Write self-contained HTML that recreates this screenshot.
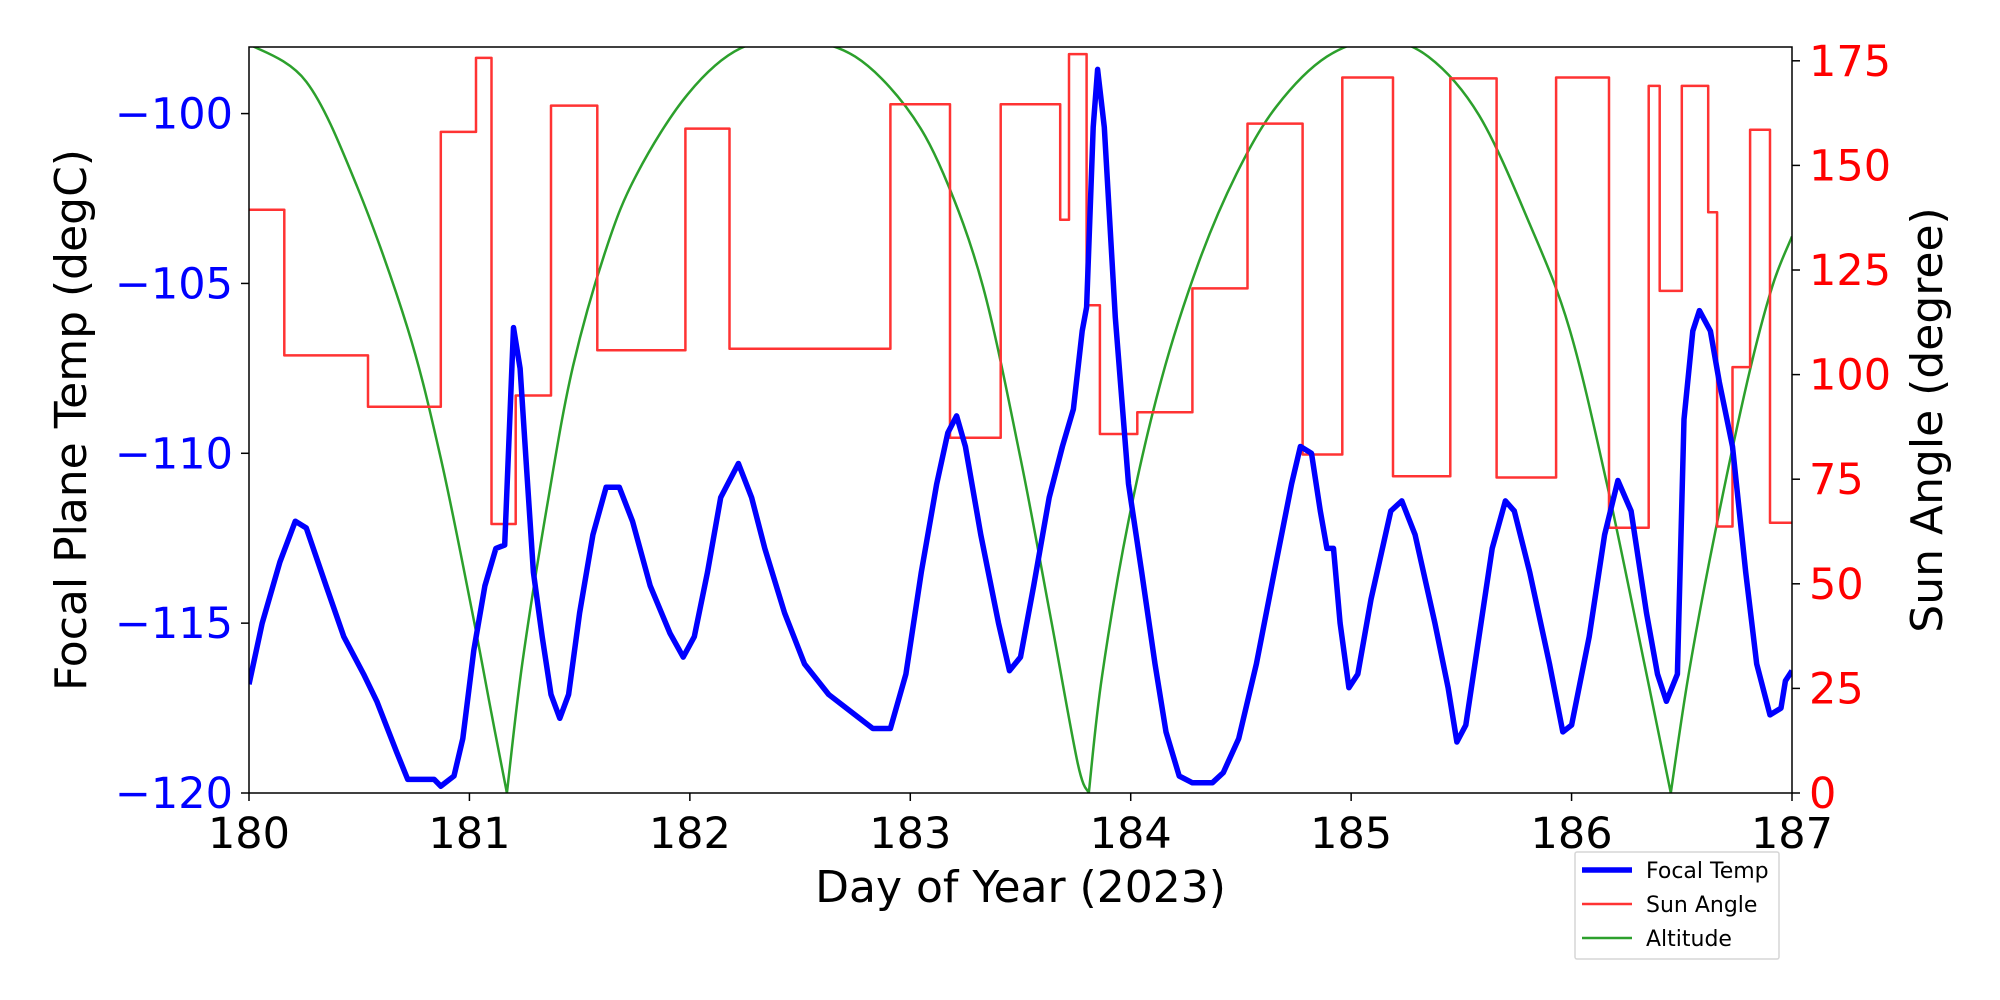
<!DOCTYPE html>
<html><head><meta charset="utf-8"><style>
html,body{margin:0;padding:0;background:#fff;}
svg{display:block;font-family:"DejaVu Sans","Liberation Sans",sans-serif;}
</style></head><body>
<svg id="chart" width="2000" height="1000" viewBox="0 0 2000 1000"></svg>
<script>
const focalDays=[180.0,180.06,180.14,180.21,180.26,180.35,180.43,180.52,180.58,180.67,180.72,180.84,180.87,180.93,180.97,181.02,181.07,181.12,181.16,181.19,181.2,181.23,181.26,181.29,181.33,181.37,181.41,181.45,181.5,181.56,181.62,181.68,181.74,181.82,181.91,181.97,182.02,182.08,182.14,182.22,182.28,182.34,182.43,182.52,182.63,182.75,182.83,182.91,182.98,183.05,183.12,183.17,183.21,183.25,183.32,183.4,183.45,183.5,183.56,183.63,183.69,183.74,183.78,183.8,183.83,183.85,183.88,183.93,183.99,184.05,184.11,184.16,184.22,184.28,184.37,184.42,184.49,184.57,184.66,184.73,184.77,184.82,184.86,184.89,184.92,184.95,184.99,185.03,185.09,185.18,185.23,185.29,185.38,185.44,185.48,185.52,185.58,185.64,185.7,185.74,185.81,185.9,185.96,186.0,186.08,186.15,186.21,186.27,186.34,186.39,186.43,186.48,186.51,186.55,186.58,186.63,186.67,186.73,186.79,186.84,186.9,186.95,186.97,187.0];
const focalTemp=[-116.8,-115,-113.2,-112.0,-112.2,-113.9,-115.4,-116.5,-117.3,-118.8,-119.6,-119.6,-119.8,-119.5,-118.4,-115.8,-113.9,-112.8,-112.7,-107.9,-106.3,-107.5,-110.5,-113.5,-115.4,-117.1,-117.8,-117.1,-114.7,-112.4,-111.0,-111.0,-112.0,-113.9,-115.3,-116.0,-115.4,-113.5,-111.3,-110.3,-111.3,-112.8,-114.7,-116.2,-117.1,-117.7,-118.1,-118.1,-116.5,-113.5,-110.9,-109.4,-108.9,-109.8,-112.4,-115.0,-116.4,-116.0,-113.9,-111.3,-109.8,-108.7,-106.4,-105.7,-100.4,-98.7,-100.4,-106.0,-110.9,-113.5,-116.2,-118.2,-119.5,-119.7,-119.7,-119.4,-118.4,-116.2,-113.2,-110.9,-109.8,-110.0,-111.7,-112.8,-112.8,-115.0,-116.9,-116.5,-114.3,-111.7,-111.4,-112.4,-115.0,-116.9,-118.5,-118.0,-115.4,-112.8,-111.4,-111.7,-113.5,-116.2,-118.2,-118.0,-115.4,-112.4,-110.8,-111.7,-114.7,-116.5,-117.3,-116.5,-109.0,-106.4,-105.8,-106.4,-107.9,-109.8,-113.5,-116.2,-117.7,-117.5,-116.7,-116.4];
const sunDays=[180.0,180.16,180.54,180.87,181.03,181.1,181.21,181.37,181.58,181.98,182.18,182.91,183.18,183.41,183.68,183.72,183.8,183.86,184.03,184.28,184.53,184.78,184.96,185.19,185.45,185.66,185.93,186.17,186.35,186.4,186.5,186.62,186.66,186.73,186.81,186.9,187.0];
const sunAngle=[139.4,104.6,92.3,158,175.7,64.3,95,164.3,105.8,158.8,106.2,164.6,84.9,164.6,137,176.6,116.6,85.8,91,120.6,160,80.9,171,75.7,170.8,75.4,171,63.4,169,120,169,138.8,63.7,101.8,158.5,64.6,64.6];
const altDays=[180.0,180.26,180.49,180.72,180.87,181.01,181.1,181.17,181.24,181.36,181.47,181.62,181.76,181.99,182.23,182.5,182.75,182.98,183.15,183.33,183.5,183.64,183.76,183.81,183.87,183.99,184.14,184.31,184.48,184.66,184.89,185.13,185.35,185.58,185.81,185.99,186.16,186.33,186.45,186.53,186.65,186.8,186.91,187.0];
const altitude=[179,170,145,111,80,44,19,0,31,71,102,130,148,167,178,180,176,164,148,121,80,41,7,0,28,65,99,127,148,164,176,180,176,162,136,111,74,31,0,28,62,99,121,133];
const xTicks=[180,181,182,183,184,185,186,187];
const leftTicks=[-120,-115,-110,-105,-100];
const rightTicks=[0,25,50,75,100,125,150,175];

const L=249,R=1792,T=47,B=793;
const xs=d=>L+(d-180)/7*(R-L);
const yl=v=>B-(v+120)/(21.96)*(B-T);
const yr=v=>B-v/178.3*(B-T);
const NS="http://www.w3.org/2000/svg";
const svg=document.getElementById('chart');
function mk(tag,attrs,parent){const e=document.createElementNS(NS,tag);for(const k in attrs)e.setAttribute(k,attrs[k]);(parent||svg).appendChild(e);return e;}

const defs=mk('defs',{});
const cp=mk('clipPath',{id:'clip'},defs);
mk('rect',{x:L,y:T,width:R-L,height:B-T},cp);
const g=mk('g',{'clip-path':'url(#clip)'});

function smoothPath(P){let s='M'+P[0][0].toFixed(1)+','+P[0][1].toFixed(1);
 for(let i=0;i<P.length-1;i++){const p0=P[i-1]||P[i],p1=P[i],p2=P[i+1],p3=P[i+2]||p2;
  const c1=[p1[0]+(p2[0]-p0[0])/6,p1[1]+(p2[1]-p0[1])/6],c2=[p2[0]-(p3[0]-p1[0])/6,p2[1]-(p3[1]-p1[1])/6];
  s+='C'+c1[0].toFixed(1)+','+c1[1].toFixed(1)+' '+c2[0].toFixed(1)+','+c2[1].toFixed(1)+' '+p2[0].toFixed(1)+','+p2[1].toFixed(1);}
 return s;}
let d='',seg=[];
altDays.forEach((t,i)=>{const p=[xs(t),yr(altitude[i])];seg.push(p);
 if(altitude[i]===0&&i>0){d+=smoothPath(seg);seg=[p];}});
if(seg.length>1)d+=smoothPath(seg);
const alt=mk('path',{d:d,fill:'none',stroke:'#2ca02c','stroke-width':2.5},g);



d='';sunDays.forEach((t,i)=>{const x=xs(t).toFixed(1),y=yr(sunAngle[i]).toFixed(1);if(i===0)d+='M'+x+','+y;else d+='L'+x+','+yr(sunAngle[i-1]).toFixed(1)+'L'+x+','+y;});
const sun=mk('path',{d:d,fill:'none',stroke:'#ff3333','stroke-width':2.5,'stroke-linejoin':'round'},g);



d='';focalDays.forEach((t,i)=>{d+=(i?'L':'M')+xs(t).toFixed(1)+','+yl(focalTemp[i]).toFixed(1);});
const ft=mk('path',{d:d,fill:'none',stroke:'#0000ff','stroke-width':5.5,'stroke-linejoin':'round'},g);



const frame=mk('rect',{x:L,y:T,width:R-L,height:B-T,fill:'none',stroke:'#000','stroke-width':1.5});



xTicks.forEach(v=>{const x=xs(v);
 mk('line',{x1:x,x2:x,y1:B,y2:B+8,stroke:'#000','stroke-width':1.5});
 const t=mk('text',{x:x,y:B+55,'text-anchor':'middle','font-size':43,fill:'#000'});t.textContent=v;
 
 });
leftTicks.forEach(v=>{const y=yl(v);
 mk('line',{x1:L-8,x2:L,y1:y,y2:y,stroke:'#000','stroke-width':1.5});
 const t=mk('text',{x:L-16,y:y+15,'text-anchor':'end','font-size':43,fill:'#0000ff'});t.textContent=String(v).replace('-','\u2212');
 
 });
rightTicks.forEach(v=>{const y=yr(v);
 mk('line',{x1:R,x2:R+8,y1:y,y2:y,stroke:'#000','stroke-width':1.5});
 const t=mk('text',{x:R+17,y:y+15,'text-anchor':'start','font-size':43,fill:'#ff0000'});t.textContent=v;
 
 });

let t=mk('text',{x:(L+R)/2,y:902,'text-anchor':'middle','font-size':44,fill:'#000'});t.textContent='Day of Year (2023)';


t=mk('text',{x:0,y:0,'text-anchor':'middle','font-size':44,fill:'#000',transform:'translate(86,'+((T+B)/2)+') rotate(-90)'});t.textContent='Focal Plane Temp (degC)';


t=mk('text',{x:0,y:0,'text-anchor':'middle','font-size':44,fill:'#000',transform:'translate(1942,'+((T+B)/2)+') rotate(-90)'});t.textContent='Sun Angle (degree)';



const lg=mk('g',{});


mk('rect',{x:1575,y:852,width:204,height:107,fill:'#fff',stroke:'#d6d6d6','stroke-width':1.5,rx:2},lg);
const entries=[['Focal Temp','#0000ff',5.5,870],['Sun Angle','#ff3333',2.5,904],['Altitude','#2ca02c',2.5,938]];
entries.forEach(e=>{
 const eg=mk('g',{},lg);
 
 
 mk('line',{x1:1582,x2:1632,y1:e[3],y2:e[3],stroke:e[1],'stroke-width':e[2]},eg);
 const tx=mk('text',{x:1646,y:e[3]+8,'font-size':22,fill:'#000'},eg);tx.textContent=e[0];
});
</script>
</body></html>
